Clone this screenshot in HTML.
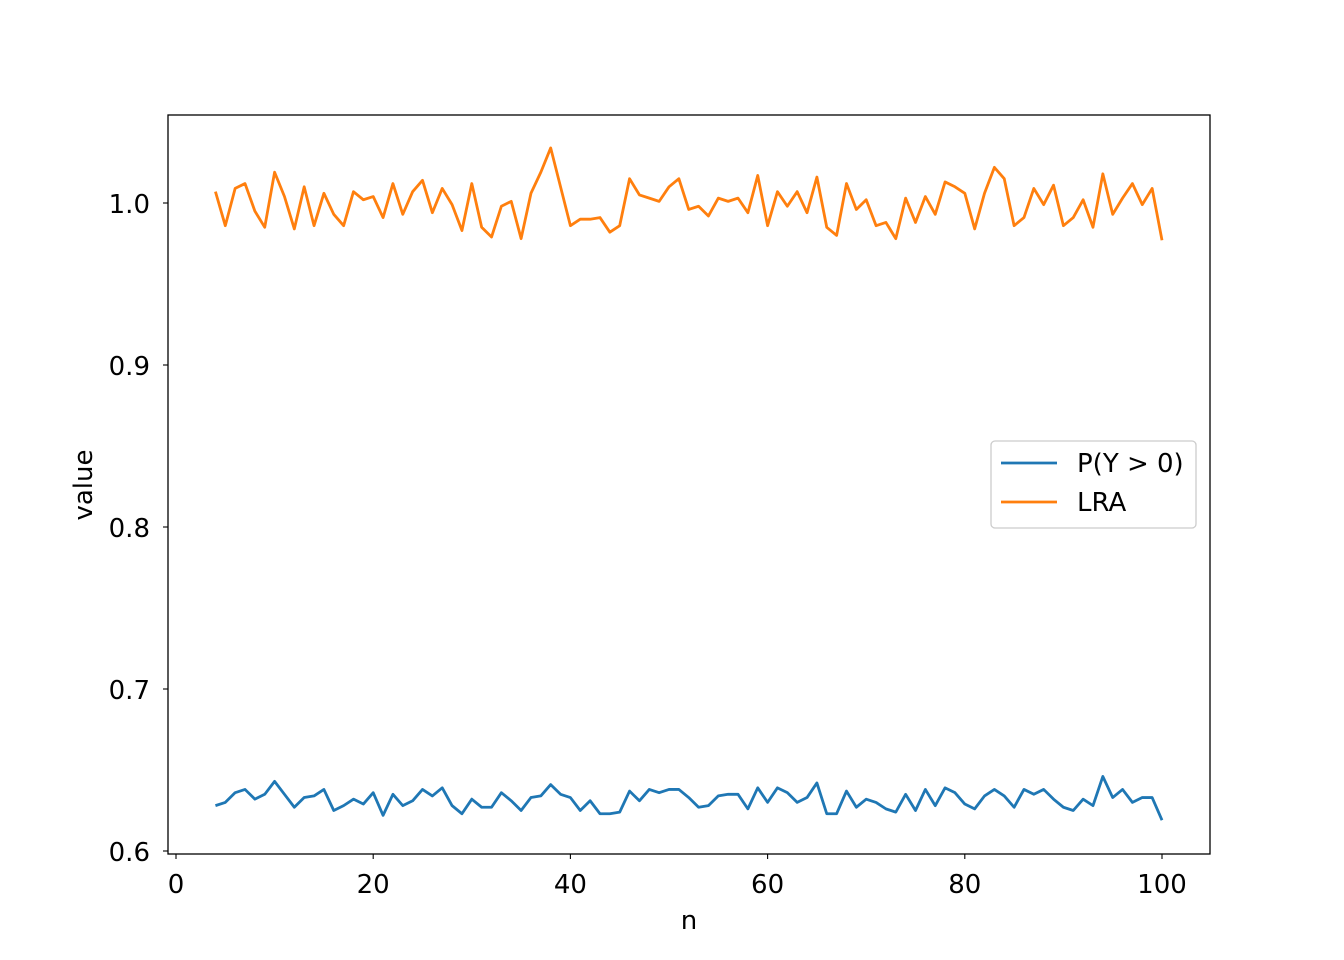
<!DOCTYPE html>
<html><head><meta charset="utf-8"><style>
body{margin:0;background:#fff}
svg{display:block;font-family:"DejaVu Sans","Liberation Sans",sans-serif}
</style></head><body>
<svg id="chart" width="1344" height="960" xmlns="http://www.w3.org/2000/svg">
<rect width="1344" height="960" fill="#fff"/>
<g id="plot"></g>
</svg>
<script>
const nStart = 4;
const pSeries = [0.628,0.630,0.636,0.638,0.632,0.635,0.643,0.635,0.627,0.633,0.634,0.638,0.625,0.628,0.632,0.629,0.636,0.622,0.635,0.628,0.631,0.638,0.634,0.639,0.628,0.623,0.632,0.627,0.627,0.636,0.631,0.625,0.633,0.634,0.641,0.635,0.633,0.625,0.631,0.623,0.623,0.624,0.637,0.631,0.638,0.636,0.638,0.638,0.633,0.627,0.628,0.634,0.635,0.635,0.626,0.639,0.630,0.639,0.636,0.630,0.633,0.642,0.623,0.623,0.637,0.627,0.632,0.630,0.626,0.624,0.635,0.625,0.638,0.628,0.639,0.636,0.629,0.626,0.634,0.638,0.634,0.627,0.638,0.635,0.638,0.632,0.627,0.625,0.632,0.628,0.646,0.633,0.638,0.630,0.633,0.633,0.619];
const lraSeries = [1.007,0.986,1.009,1.012,0.995,0.985,1.019,1.004,0.984,1.010,0.986,1.006,0.993,0.986,1.007,1.002,1.004,0.991,1.012,0.993,1.007,1.014,0.994,1.009,0.999,0.983,1.012,0.985,0.979,0.998,1.001,0.978,1.006,1.019,1.034,1.010,0.986,0.990,0.990,0.991,0.982,0.986,1.015,1.005,1.003,1.001,1.010,1.015,0.996,0.998,0.992,1.003,1.001,1.003,0.994,1.017,0.986,1.007,0.998,1.007,0.994,1.016,0.985,0.980,1.012,0.996,1.002,0.986,0.988,0.978,1.003,0.988,1.004,0.993,1.013,1.010,1.006,0.984,1.006,1.022,1.015,0.986,0.991,1.009,0.999,1.011,0.986,0.991,1.002,0.985,1.018,0.993,1.003,1.012,0.999,1.009,0.977];
const xTicks = [0,20,40,60,80,100];
const yTicks = [0.6,0.7,0.8,0.9,1.0];
const yTickLabels = ["0.6","0.7","0.8","0.9","1.0"];
const legendLabels = ["P(Y > 0)","LRA"];
const colors = ["#1f77b4","#ff7f0e"];

const L=168,R=1210,T=115,B=854;
const FS=26;
const X = v => 176 + v*(1162-176)/100;
const Y = v => 851 - (v-0.6)*(851-203)/0.4;
const NS="http://www.w3.org/2000/svg";
const g=document.getElementById('plot');
function el(t,a,txt){const e=document.createElementNS(NS,t);for(const k in a)e.setAttribute(k,a[k]);if(txt!==undefined)e.textContent=txt;g.appendChild(e);return e;}

[pSeries,lraSeries].forEach((s,i)=>{
  const pts=s.map((v,j)=>X(nStart+j).toFixed(2)+","+Y(v).toFixed(2)).join(" ");
  const p=el('polyline',{points:pts,fill:'none',stroke:colors[i],'stroke-width':2.8,'stroke-linejoin':'round'});
  
  
});
const frame=el('rect',{x:L,y:T,width:R-L,height:B-T,fill:'none',stroke:'#000','stroke-width':1.3});


xTicks.forEach(t=>{
  const x=X(t);
  el('line',{x1:x,x2:x,y1:B,y2:B+5,stroke:'#000','stroke-width':1.1});
  const tx=el('text',{x:x,y:893,'font-size':FS,'text-anchor':'middle',fill:'#000'},String(t));
  
  
});
yTicks.forEach((t,i)=>{
  const y=Y(t);
  el('line',{x1:L-5,x2:L,y1:y,y2:y,stroke:'#000','stroke-width':1.1});
  const tx=el('text',{x:150,y:y+10,'font-size':FS,'text-anchor':'end',fill:'#000'},yTickLabels[i]);
  
  
});
const xt=el('text',{x:689,y:929,'font-size':FS,'text-anchor':'middle'},'n');


const yt=el('text',{x:92,y:485,'font-size':FS,'text-anchor':'middle',transform:'rotate(-90 92 485)'},'value');


const lb=el('rect',{x:991,y:441,width:205,height:87,rx:4,fill:'#fff','fill-opacity':0.8,stroke:'#ccc','stroke-width':1.3});


legendLabels.forEach((l,i)=>{
  const y=463+i*39;
  const ln=el('line',{x1:1001,x2:1057,y1:y,y2:y,stroke:colors[i],'stroke-width':2.8});
  
  
  const tx=el('text',{x:1077,y:y+9,'font-size':FS},l);
  
  
});
</script>
</body></html>
